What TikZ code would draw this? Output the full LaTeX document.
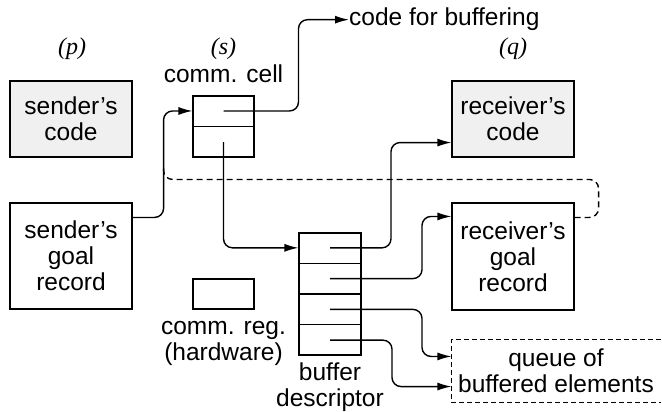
\documentclass[tikz,border=0pt]{standalone}
\usepackage{fontspec}
\setmainfont{Liberation Sans}
\newfontfamily\procfont{Liberation Serif}
\usetikzlibrary{arrows.meta,calc}
\definecolor{codefill}{HTML}{F0F0F0}
\begin{document}
\begin{tikzpicture}[x=1pt,y=-1pt,
  txt/.style={font=\fontsize{24.5}{26}\selectfont, align=center, inner sep=0pt},
  proc/.style={font=\procfont\itshape\fontsize{24}{26}\selectfont, inner sep=0pt, anchor=base},
  box/.style={txt, draw, line width=1.1pt},
  cellbox/.style={draw, line width=1.1pt, inner sep=0pt},
  link/.style={line width=1.4pt, rounded corners=9pt},
  arr/.style={link, -{Latex[length=14pt,width=8pt]}},
  dashlink/.style={link, dash pattern=on 6pt off 4pt},
]
\useasboundingbox (0,0) rectangle (662,412);

% process labels
\node[proc] (plab) at (72,55) {(p)};
\node[proc] (slab) at (223.5,55) {(s)};
\node[proc] (qlab) at (513,55) {(q)};

% sender side
\node[box, fill=codefill, minimum width=122pt, minimum height=76pt] (sc) at (71,119) {sender's\\code};
\node[box, minimum width=122pt, minimum height=106pt] (sg) at (71,256) {sender's\\goal\\record};

% communication cell with its two slots
\node[txt, anchor=base] (cclab) at (223.5,83) {comm. cell};
\node[cellbox, minimum width=61pt, minimum height=61pt] (cc) at (223.5,126.5) {};
\draw[line width=1.5pt] (cc.west) -- (cc.east);
\coordinate (c1) at ($(cc.north)!0.25!(cc.south)$);
\coordinate (c2) at ($(cc.north)!0.75!(cc.south)$);

% communication register
\node[cellbox, minimum width=61pt, minimum height=30pt] (cr) at (223.5,294) {};
\node[txt, anchor=north] (crlab) at ($(cr.south)+(0,12)$) {comm. reg.\\(hardware)};

% buffer descriptor with four slots
\node[cellbox, minimum width=62pt, minimum height=122pt] (bd) at (330,294) {};
\foreach \f in {0.25,0.5,0.75}
  \draw[line width=1.1pt] ($(bd.north west)!\f!(bd.south west)$) -- ($(bd.north east)!\f!(bd.south east)$);
\coordinate (b1) at ($(bd.north)!0.125!(bd.south)$);
\coordinate (b2) at ($(bd.north)!0.375!(bd.south)$);
\coordinate (b3) at ($(bd.north)!0.625!(bd.south)$);
\coordinate (b4) at ($(bd.north)!0.875!(bd.south)$);
\node[txt, anchor=north] (bdlab) at ($(bd.south)+(0,7)$) {buffer\\descriptor};

% receiver side
\node[box, fill=codefill, minimum width=122pt, minimum height=76pt] (rc) at (513,119) {receiver's\\code};
\node[box, minimum width=122pt, minimum height=107pt] (rg) at (513,256.5) {receiver's\\goal\\record};
\node[box, draw=none, minimum width=208pt, minimum height=62pt] (qu) at (556,371) {queue of\\buffered elements};
\draw[line width=1.1pt, dash pattern=on 5pt off 3pt] (qu.north east) -- (qu.north west) -- (qu.south west) -- (qu.south east);

\node[txt, anchor=base west] (cfb) at (349,26) {code for buffering};

% entry and exit points
\coordinate (sgout) at ($(sg.north east)+(0,15)$);
\coordinate (jog) at ($(sgout)+(31,0)$);
\coordinate (rgout) at ($(rg.north east)+(0,15)$);
\coordinate (rcin) at ($(rc.south west)+(0,-15)$);
\coordinate (rgin) at ($(rg.north west)+(0,14)$);
\coordinate (qin1) at ($(qu.north west)+(0,17)$);
\coordinate (qin2) at ($(qu.south west)+(0,-16)$);

% connectors
\draw[arr] (sgout) -- (jog) |- (cc.west |- c1);
\draw[arr] (c1) -- ++(75,0) |- (cfb.west);
\draw[arr] (c2) |- (bd.west |- b1);
\draw[arr] (b1) -- ++(61,0) |- (rcin);
\draw[arr] (b2) -- ++(92,0) |- (rgin);
\draw[arr] (b3) -- ++(92,0) |- (qin1);
\draw[arr] (b4) -- ++(62,0) |- (qin2);
\draw[dashlink] (rgout) -- ++(24,0) |- ($(jog)+(0,-38)$) -- ++(0,-14);
\end{tikzpicture}
\end{document}
